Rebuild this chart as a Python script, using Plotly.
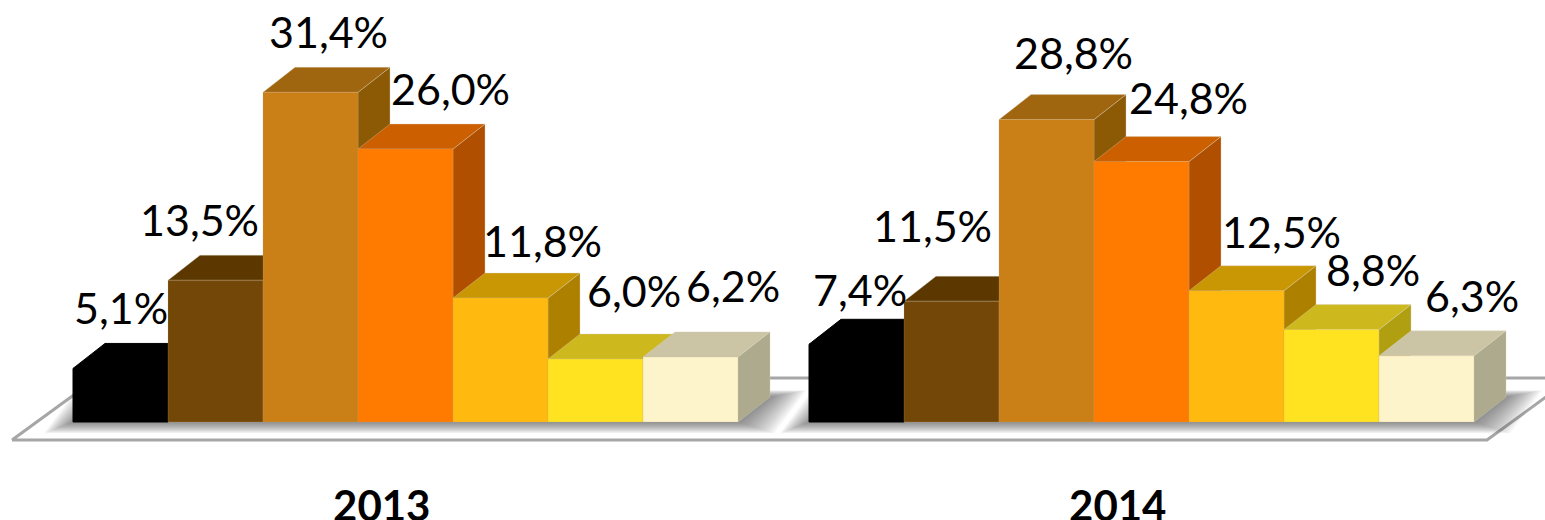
import plotly.graph_objects as go

# --- data ---
years = ["2013", "2014"]
values_2013 = [5.1, 13.5, 31.4, 26.0, 11.8, 6.0, 6.2]
values_2014 = [7.4, 11.5, 28.8, 24.8, 12.5, 8.8, 6.3]
labels_2013 = ["5,1%", "13,5%", "31,4%", "26,0%", "11,8%", "6,0%", "6,2%"]
labels_2014 = ["7,4%", "11,5%", "28,8%", "24,8%", "12,5%", "8,8%", "6,3%"]

# --- styles ---
front_colors = ["#000000", "#734707", "#ca7f17", "#ff7b00", "#ffb90f", "#ffe320", "#fef4cc"]
top_colors = ["#000000", "#5c3800", "#a0650f", "#cc6000", "#c99704", "#cdb81e", "#cbc5a6"]
side_colors = ["#000000", "#4f3000", "#8c5905", "#b04f00", "#ad8000", "#b09f10", "#aeaa8d"]

# label nudges in pixels, relative to the top-centre of each bar's front face
nudge_2013 = [(0, 61), (-16, 61), (18, 61), (45, 61), (42, 58), (38, 69), (42, 71)]
nudge_2014 = [(3, 55), (-19, 76), (27, 67), (47, 64), (45, 59), (41, 60), (45, 60)]

PX_X, PX_Y = 95.0, 10.5          # pixels per bar width / per percent
W, H = 1545, 520
X0_PX, BASE_PX = 73, 422
GROUP_START = [0.0, (809 - X0_PX) / PX_X]
DX, DY = 32 / PX_X, 25 / PX_Y    # depth of the boxes
FONT = "Lato, Carlito, sans-serif"

fig = go.Figure()


def poly(xs, ys, fill, line=None, width=1):
    fig.add_trace(go.Scatter(
        x=list(xs) + [xs[0]], y=list(ys) + [ys[0]], mode="lines", fill="toself",
        fillcolor=fill,
        line=dict(color=line or fill, width=width if line else 0),
        hoverinfo="skip", showlegend=False))


# floor plate
fx0, fx1 = (12 - X0_PX) / PX_X, (1487 - X0_PX) / PX_X
fy = (BASE_PX - 440) / PX_Y
back = (BASE_PX - 378) / PX_Y
skew = 85 / PX_X
poly([fx0, fx1, fx1 + skew, fx0 + skew], [fy, fy, back, back], "#ffffff", "#a6a6a6", 3)

# soft shadow around each group's footprint
for start in GROUP_START:
    n = len(values_2013)
    for k in range(15, 0, -1):
        ex = k * 2.4 / PX_X
        ey = k * 0.75 / PX_Y
        x_l, x_r = start - ex * 0.8, start + n + ex
        poly([x_l, x_r, x_r + DX, x_l + DX],
             [-ey, -ey, DY + ey * 0.6, DY + ey * 0.6],
             "rgba(70,70,70,0.055)")

# boxes, left to right so each bar hides what lies behind it
for start, vals in zip(GROUP_START, [values_2013, values_2014]):
    for i, v in enumerate(vals):
        x = start + i
        is_black = front_colors[i] == "#000000"
        edge_side = "#000000" if is_black else "rgba(215,210,190,0.35)"
        edge_front = "#000000" if is_black else "rgba(190,170,130,0.22)"
        poly([x + 1, x + 1 + DX, x + 1 + DX, x + 1], [0, DY, v + DY, v], side_colors[i], edge_side, 1)
        poly([x, x + 1, x + 1 + DX, x + DX], [v, v, v + DY, v + DY], top_colors[i], edge_side, 1)
        poly([x, x + 1, x + 1, x], [0, 0, v, v], front_colors[i], edge_front, 1)

# data labels
for start, vals, labs, nudges in zip(GROUP_START, [values_2013, values_2014],
                                     [labels_2013, labels_2014], [nudge_2013, nudge_2014]):
    for i, (v, t, (nx, ny)) in enumerate(zip(vals, labs, nudges)):
        fig.add_annotation(x=start + i + 0.5, y=v, text=t, showarrow=False,
                           xshift=nx, yshift=ny,
                           font=dict(family=FONT, size=43, color="#000000"))

# group labels
fig.add_trace(go.Scatter(
    x=[s + 3.25 for s in GROUP_START], y=[(BASE_PX - 510) / PX_Y] * 2,
    text=["<b>%s</b>" % y for y in years], mode="text", textposition="middle center",
    textfont=dict(family=FONT, size=42, color="#000000"), hoverinfo="skip",
    showlegend=False, cliponaxis=False))

fig.update_layout(
    width=W, height=H, margin=dict(l=0, r=0, t=0, b=0),
    paper_bgcolor="#ffffff", plot_bgcolor="#ffffff", showlegend=False,
    xaxis=dict(range=[-X0_PX / PX_X, (W - X0_PX) / PX_X], visible=False, fixedrange=True),
    yaxis=dict(range=[(BASE_PX - H) / PX_Y, BASE_PX / PX_Y], visible=False, fixedrange=True),
)
fig.write_html("out.html", config={"displayModeBar": False},
               post_script="document.body.style.margin='0';document.body.style.overflow='hidden';")
